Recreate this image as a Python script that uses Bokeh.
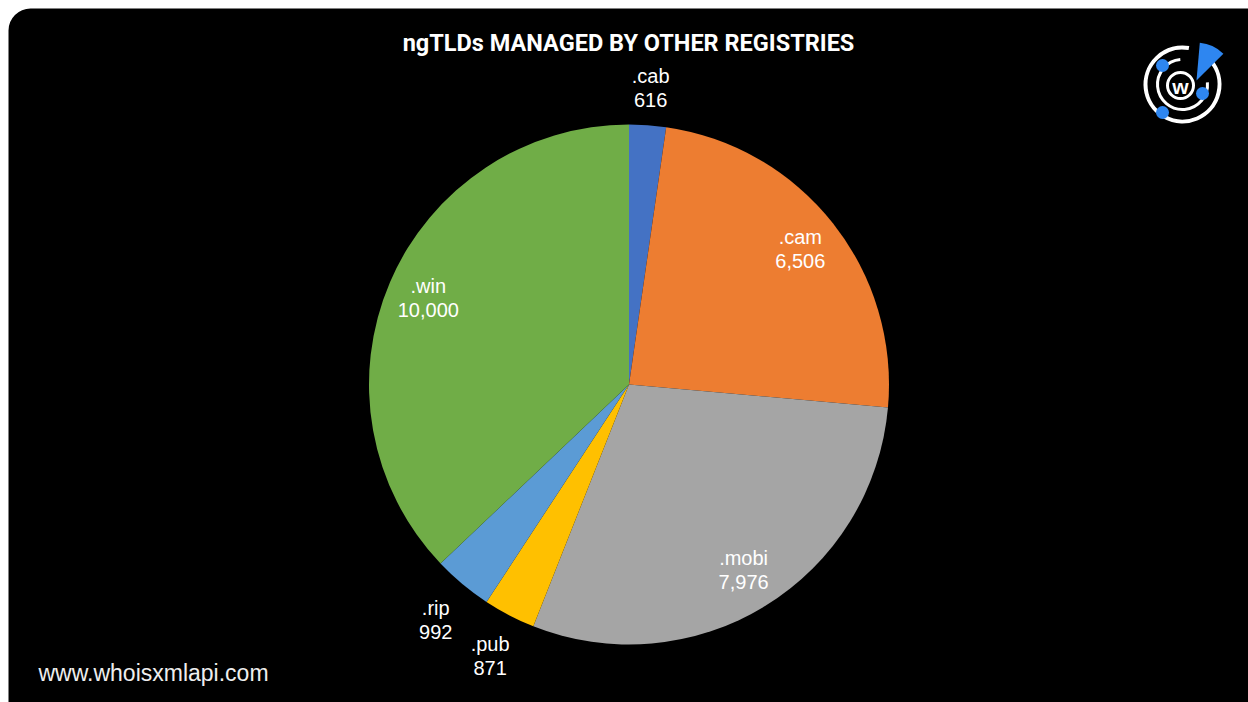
import math
from bokeh.plotting import figure
from bokeh.models import Range1d, ColumnDataSource, BoxAnnotation
from bokeh.core.properties import value
from bokeh.embed import file_html
from bokeh.resources import INLINE

# ---- data ----
tlds = [".cab", ".cam", ".mobi", ".pub", ".rip", ".win"]
counts = [616, 6506, 7976, 871, 992, 10000]
count_labels = ["616", "6,506", "7,976", "871", "992", "10,000"]
colors = ["#4472C4", "#ED7D31", "#A5A5A5", "#FFC000", "#5B9BD5", "#70AD47"]
outside = [True, False, False, True, True, False]
title_text = "ngTLDs MANAGED BY OTHER REGISTRIES"
footer_text = "www.whoisxmlapi.com"

W, H = 1248, 702
def Y(py):
    return H - py

p = figure(width=W, height=H, output_backend="svg", toolbar_location=None,
           x_range=Range1d(0, W), y_range=Range1d(0, H), min_border=0)
p.axis.visible = False
p.grid.visible = False
p.outline_line_color = None
p.background_fill_color = "white"
p.border_fill_color = "white"

# black rounded card
p.add_layout(BoxAnnotation(left=8, right=W + 30, bottom=Y(H + 30), top=Y(8),
                           fill_color="black", fill_alpha=1, line_color=None,
                           border_radius=22, level="underlay"))

# ---- pie ----
cx, cy, r = 628.5, Y(384), 260
total = sum(counts)
cum = [0]
for c in counts:
    cum.append(cum[-1] + c)
starts, ends, mids = [], [], []
for i in range(len(counts)):
    f0, f1 = cum[i] / total, cum[i + 1] / total
    starts.append(math.pi / 2 - 2 * math.pi * f1)
    ends.append(math.pi / 2 - 2 * math.pi * f0)
    mids.append(math.pi / 2 - 2 * math.pi * (f0 + f1) / 2)

src = ColumnDataSource(dict(start=starts, end=ends, color=colors))
p.wedge(x=cx, y=cy, radius=r, start_angle="start", end_angle="end",
        fill_color="color", line_color=None, source=src)

# labels
lx, ly = [], []
for i, m in enumerate(mids):
    d = r * 1.16 if outside[i] else r * 0.84
    lx.append(cx + d * math.cos(m))
    ly.append(cy + d * math.sin(m) - (4 if outside[i] else 0))
lsrc = ColumnDataSource(dict(x=lx, y1=[y + 12 for y in ly], y2=[y - 12 for y in ly],
                             name=tlds, val=count_labels))
for ycol, col in (("y1", "name"), ("y2", "val")):
    p.text(x="x", y=ycol, text=col, source=lsrc, text_color="white",
           text_font=value("Liberation Sans"), text_font_size="20px",
           text_align="center", text_baseline="middle")

# title
p.text(x=[628], y=[Y(42)], text=[title_text], text_color="white",
       text_font=value("Roboto"), text_font_style="bold",
       text_font_size="23.5px", text_align="center", text_baseline="middle")

# footer
p.text(x=[38], y=[Y(672)], text=[footer_text], text_color="#EEEEEE",
       text_font=value("Liberation Sans"), text_font_size="23px",
       text_align="left", text_baseline="middle")

# ---- logo ----
lcx, lcy = 1182, Y(84)
p.arc(x=lcx, y=lcy, radius=37, start_angle=math.radians(80), end_angle=math.radians(40),
      direction="anticlock", line_color="white", line_width=4, radius_units="screen")
p.arc(x=lcx, y=lcy, radius=25, start_angle=math.radians(95), end_angle=math.radians(5),
      direction="anticlock", line_color="white", line_width=3, radius_units="screen")
p.circle(x=[lcx - 2], y=[lcy - 1], radius=13, radius_units="screen",
         fill_color=None, line_color="white", line_width=3)
p.text(x=[lcx - 2], y=[lcy - 2], text=["w"], text_color="white",
       text_font=value("Liberation Sans"), text_font_style="bold",
       text_font_size="21px", text_align="center", text_baseline="middle")
p.scatter(x=[1162, 1202, 1162], y=[Y(65), Y(93), Y(112)], size=13,
          fill_color="#2E86F0", line_color=None)
p.wedge(x=[1196], y=[Y(80)], radius=38, radius_units="screen",
        start_angle=math.radians(45), end_angle=math.radians(85),
        fill_color="#2E86F0", line_color=None)

open("out.html", "w").write(file_html(p, INLINE))
